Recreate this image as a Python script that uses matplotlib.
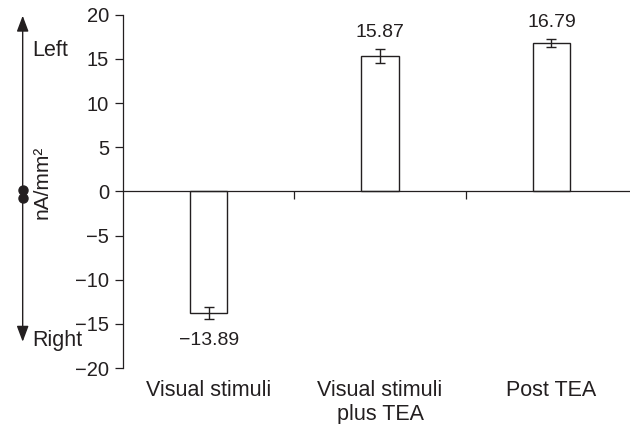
import matplotlib
matplotlib.use("Agg")
import matplotlib.pyplot as plt

# data
categories = ["Visual stimuli", "Visual stimuli\nplus TEA", "Post TEA"]
bar_values = [-13.75, 15.35, 16.8]
bar_errors = [0.65, 0.8, 0.45]
value_labels = ["\u221213.89", "15.87", "16.79"]
y_ticks = [-20, -15, -10, -5, 0, 5, 10, 15, 20]

INK = "#231f20"
plt.rcParams["font.family"] = ["Liberation Sans", "DejaVu Sans"]

fig = plt.figure(figsize=(6.3, 4.24), dpi=100)
ax = fig.add_axes([0.195, 0.132, 0.805, 0.833])

x = list(range(len(categories)))
ax.bar(x, bar_values, width=0.22, color="white", edgecolor=INK, linewidth=1.0, zorder=2)
ax.errorbar(x, bar_values, yerr=bar_errors, fmt="none", ecolor=INK,
            elinewidth=1.0, capsize=3.6, capthick=1.0, zorder=3)

for xi, v, e, lbl in zip(x, bar_values, bar_errors, value_labels):
    if v >= 0:
        ax.annotate(lbl, xy=(xi, v + e), xytext=(0, 12), textcoords="offset points",
                    ha="center", va="center", fontsize=14, color=INK)
    else:
        ax.annotate(lbl, xy=(xi, v - e), xytext=(0, -16), textcoords="offset points",
                    ha="center", va="center", fontsize=14, color=INK)

ax.set_xlim(-0.5, 2.458)
ax.set_ylim(-20, 20)
ax.set_yticks(y_ticks)
ax.tick_params(axis="y", direction="out", length=5.5, width=0.9, color=INK,
               labelsize=14.5, labelcolor=INK, pad=4.5)

# x axis sits at zero, ticks between groups
ax.spines["bottom"].set_position(("data", 0))
ax.spines["top"].set_visible(False)
ax.spines["right"].set_visible(False)
for s in ("left", "bottom"):
    ax.spines[s].set_color(INK)
    ax.spines[s].set_linewidth(0.9)
ax.set_xticks([0.5, 1.5])
ax.set_xticklabels([])
ax.tick_params(axis="x", direction="out", length=5.5, width=0.9, color=INK)

for xi, cat in zip(x, categories):
    ax.text(xi, -21.3, cat, ha="center", va="top", fontsize=15.5, color=INK,
            linespacing=1.2)

# left/right direction arrow
ax_x = 0.036
y_mid_top, y_mid_bot = 0.552, 0.534
arrow = dict(arrowstyle="-|>,head_length=0.8,head_width=0.3", lw=1.0, color=INK,
             shrinkA=0, shrinkB=0, mutation_scale=12)
ax.annotate("", xy=(ax_x, 0.963), xytext=(ax_x, y_mid_top), xycoords="figure fraction",
            textcoords="figure fraction", arrowprops=arrow, annotation_clip=False)
ax.annotate("", xy=(ax_x, 0.194), xytext=(ax_x, y_mid_bot), xycoords="figure fraction",
            textcoords="figure fraction", arrowprops=arrow, annotation_clip=False)
for yy in (y_mid_top, y_mid_bot):
    fig.lines.append(plt.Line2D([ax_x], [yy], marker="o", markersize=6.5, color=INK,
                                transform=fig.transFigure))

fig.text(0.051, 0.882, "Left", ha="left", va="center", fontsize=15.5, color=INK)
fig.text(0.051, 0.198, "Right", ha="left", va="center", fontsize=15.5, color=INK)
fig.text(0.066, 0.571, "nA/mm\u00b2", rotation=90, ha="center", va="center",
         fontsize=15, color=INK)

fig.savefig("out.png", dpi=100)
